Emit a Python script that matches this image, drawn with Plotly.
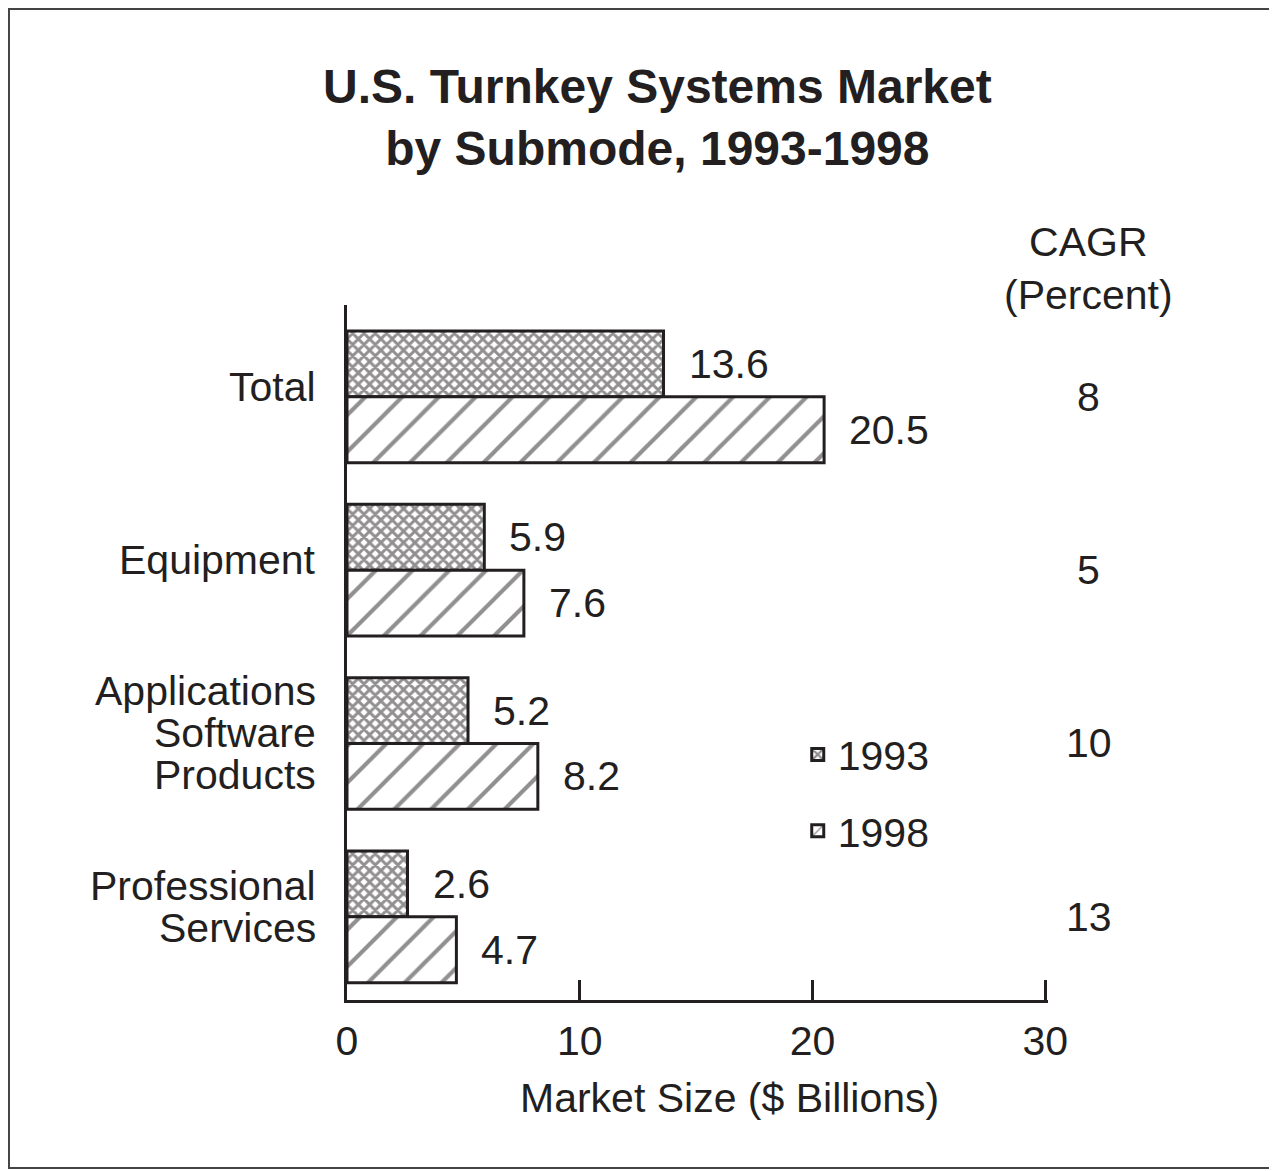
import plotly.graph_objects as go

# Data
categories = ["Total", "Equipment", "Applications<br>Software<br>Products", "Professional<br>Services"]
values_1993 = [13.6, 5.9, 5.2, 2.6]
values_1998 = [20.5, 7.6, 8.2, 4.7]
cagr = ["8", "5", "10", "13"]
x_ticks = [0, 10, 20, 30]

ink = "#231f20"
font = "Liberation Sans, Arial, Helvetica, sans-serif"
ypos = list(range(len(categories)))
bar_gap = 0.24
half = (1 - bar_gap) / 4  # centre offset of each bar in a pair
line_h = 42  # line spacing of the category labels

fig = go.Figure()
fig.add_trace(go.Bar(
    name="1993", y=ypos, x=values_1993, orientation="h", legendgroup="a",
    marker=dict(color="white", line=dict(color=ink, width=3),
                pattern=dict(shape="x", fgcolor=ink, bgcolor="white", size=8, solidity=0.6)),
))
fig.add_trace(go.Bar(
    name="1998", y=ypos, x=values_1998, orientation="h", legendgroup="b",
    marker=dict(color="white", line=dict(color=ink, width=3),
                pattern=dict(shape="/", fgcolor=ink, bgcolor="white", size=26, solidity=0.16)),
))

annos = []
# category labels, one annotation per line so the line spacing can be tight
for i, cat in enumerate(categories):
    lines = cat.split("<br>")
    n = len(lines)
    for k, ln in enumerate(lines):
        annos.append(dict(x=0, xref="paper", y=i, text=ln, xanchor="right", yanchor="middle",
                          xshift=-29, yshift=10 + ((n - 1) / 2 - k) * line_h, showarrow=False))
# value labels next to the bars
for i, (a, b) in enumerate(zip(values_1993, values_1998)):
    annos.append(dict(x=a, y=i - half, text=f"{a}", xanchor="left", xshift=23, showarrow=False))
    annos.append(dict(x=b, y=i + half, text=f"{b}", xanchor="left", xshift=23, showarrow=False))
# CAGR column
for i, c in enumerate(cagr):
    annos.append(dict(x=1.058, xref="paper", y=i, text=c, xanchor="center", showarrow=False))
annos.append(dict(x=1.058, xref="paper", y=1.053, yref="paper", text="CAGR<br>(Percent)",
                  xanchor="center", yanchor="middle", showarrow=False))
# title and x-axis title
annos.append(dict(x=0.443, xref="paper", y=1.27, yref="paper",
                  text="<b>U.S. Turnkey Systems Market<br>by Submode, 1993-1998</b>",
                  xanchor="center", yanchor="middle", showarrow=False, font=dict(size=48)))
annos.append(dict(x=0.545, xref="paper", y=-0.141, yref="paper", text="Market Size ($ Billions)",
                  xanchor="center", yanchor="middle", showarrow=False))

fig.update_layout(
    width=1269, height=1163,
    margin=dict(l=339, r=229, t=297, b=171),
    paper_bgcolor="white", plot_bgcolor="white",
    font=dict(family=font, size=41, color=ink),
    barmode="group", bargap=bar_gap, bargroupgap=0,
    showlegend=True,
    legend=dict(x=0.643, y=0.401, xanchor="left", yanchor="top", bgcolor="rgba(0,0,0,0)",
                tracegroupgap=20, font=dict(size=41)),
    annotations=annos,
    shapes=[dict(type="rect", xref="paper", yref="paper", x0=-0.4822, x1=1.3213,
                 y0=-0.2417, y1=1.426, line=dict(color="#444", width=2))],
)
fig.update_xaxes(
    range=[0, 30.12], tickvals=x_ticks, ticks="inside", ticklen=20, tickwidth=3, tickcolor=ink,
    showline=True, linewidth=3, linecolor=ink, showgrid=False, zeroline=False,
    ticklabelstandoff=3,
)
fig.update_yaxes(
    range=[3.48, -0.53], tickvals=ypos, showticklabels=False, ticks="",
    showline=True, linewidth=3, linecolor=ink, showgrid=False, zeroline=False,
)

fig.write_html("out.html")
